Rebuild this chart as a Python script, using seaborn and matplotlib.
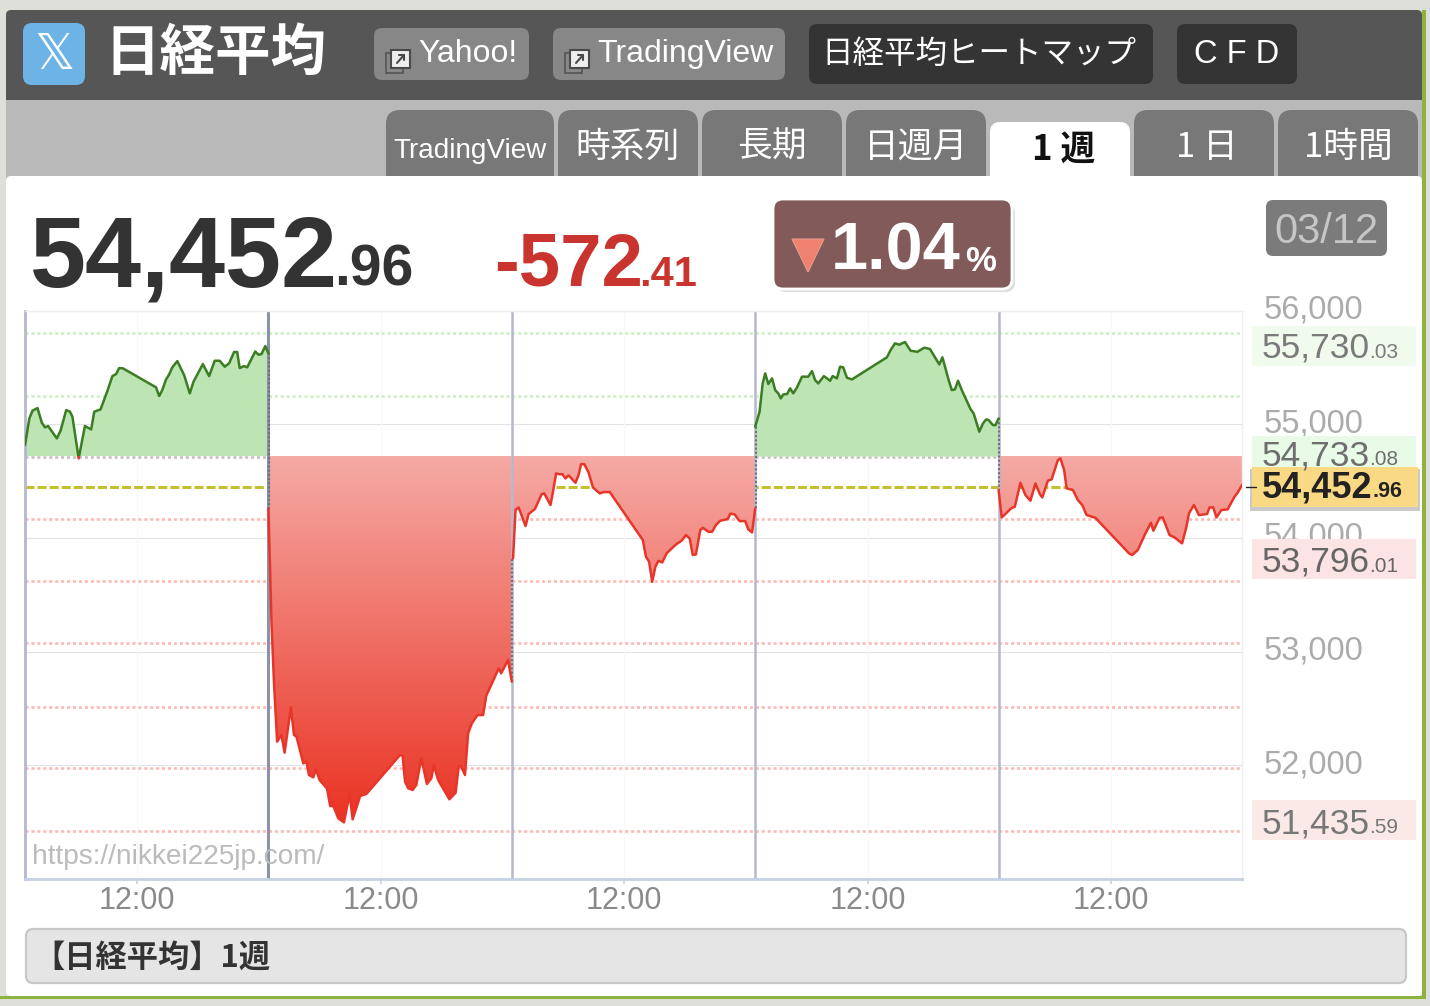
import numpy as np
import pandas as pd
import matplotlib
matplotlib.use("Agg")
import matplotlib.pyplot as plt
import matplotlib.patches as mpatches
import matplotlib.path as mpath
import matplotlib.transforms as mtrans
from matplotlib.colors import LinearSegmentedColormap
import seaborn as sns

# minutes after 09:00 in each session, and price
day1_min = [0, 7, 12, 20, 27, 32, 37, 51, 57, 66, 72, 76, 86, 96, 106, 111, 121, 132, 140, 146, 151, 157, 210, 215, 220, 226, 231, 236, 244, 255, 264, 270, 285, 295, 304, 312, 320, 327, 335, 340, 344, 351, 356, 369, 374, 379, 385, 390]
day1_px = [54817, 55051, 55119, 55142, 55013, 54972, 54984, 54875, 54943, 55124, 55110, 55066, 54699, 54984, 54954, 55110, 55130, 55292, 55423, 55441, 55494, 55491, 55324, 55248, 55300, 55394, 55438, 55500, 55555, 55432, 55271, 55374, 55529, 55423, 55558, 55558, 55506, 55535, 55635, 55635, 55494, 55511, 55500, 55640, 55611, 55617, 55687, 55623]
day2_min = [0, 5, 9, 14, 21, 26, 36, 41, 45, 56, 61, 65, 72, 76, 82, 94, 99, 104, 112, 121, 130, 135, 147, 157, 211, 215, 219, 224, 231, 237, 245, 254, 261, 265, 272, 290, 300, 305, 309, 315, 320, 326, 335, 344, 349, 369, 373, 384, 390]
day2_px = [54260, 53249, 52721, 52208, 52267, 52111, 52510, 52267, 52252, 52017, 52032, 51915, 51894, 51967, 51871, 51795, 51642, 51642, 51534, 51498, 51745, 51525, 51730, 51748, 52091, 52085, 51856, 51798, 51783, 51827, 52061, 51836, 51885, 52003, 51871, 51701, 51759, 51997, 51988, 51915, 52281, 52369, 52442, 52442, 52610, 52853, 52809, 52926, 52736]
day3_min = [2, 6, 11, 22, 27, 37, 48, 52, 62, 66, 71, 77, 81, 86, 91, 102, 107, 111, 116, 123, 130, 141, 147, 157, 210, 215, 220, 225, 230, 235, 241, 248, 259, 264, 272, 279, 285, 290, 295, 302, 306, 315, 321, 327, 334, 346, 350, 357, 365, 374, 379, 385, 390]
day3_px = [53820, 54245, 54268, 54104, 54210, 54254, 54386, 54391, 54289, 54406, 54567, 54559, 54561, 54523, 54550, 54485, 54553, 54649, 54649, 54576, 54444, 54391, 54403, 54403, 53981, 53834, 53790, 53614, 53746, 53799, 53784, 53864, 53922, 53946, 53975, 54025, 53996, 53849, 53855, 54069, 54089, 54054, 54054, 54113, 54151, 54166, 54213, 54207, 54148, 54148, 54075, 54048, 54259]
day4_min = [0, 7, 12, 16, 21, 27, 32, 37, 41, 45, 51, 56, 61, 67, 75, 85, 91, 96, 101, 110, 120, 124, 131, 136, 141, 147, 155, 211, 217, 224, 231, 240, 249, 260, 271, 280, 295, 300, 310, 315, 320, 325, 331, 345, 350, 359, 365, 370, 374, 381, 385, 390]
day4_px = [54978, 55110, 55359, 55447, 55353, 55403, 55300, 55271, 55227, 55262, 55265, 55315, 55271, 55324, 55418, 55418, 55467, 55388, 55359, 55423, 55382, 55423, 55403, 55506, 55500, 55409, 55394, 55588, 55652, 55711, 55699, 55723, 55646, 55637, 55673, 55661, 55526, 55588, 55388, 55300, 55306, 55382, 55300, 55133, 55095, 54934, 55007, 55042, 55036, 54992, 54992, 55051]
day5_min = [0, 5, 12, 20, 26, 35, 43, 51, 59, 66, 70, 79, 85, 95, 99, 105, 109, 119, 127, 134, 141, 155, 209, 214, 223, 234, 244, 248, 258, 263, 274, 282, 294, 301, 305, 313, 321, 334, 338, 344, 349, 357, 367, 378, 383, 390]
day5_px = [54421, 54180, 54216, 54260, 54274, 54485, 54377, 54327, 54479, 54386, 54356, 54503, 54515, 54685, 54699, 54597, 54436, 54421, 54333, 54289, 54201, 54177, 53864, 53849, 53893, 54025, 54133, 54063, 54177, 54180, 54025, 54004, 53952, 54098, 54216, 54289, 54201, 54210, 54268, 54268, 54180, 54245, 54251, 54362, 54397, 54465]

session_len = 390
base_price = 54720
base_dotted = 54708
last_price = 54452
green_levels = [55798, 55252]
red_levels = [54162, 53621, 53076, 52513, 51972, 51422]
y_ticks = [52000, 53000, 54000, 55000, 56000]
y_ticklabels = ["52,000", "53,000", "54,000", "55,000", "56,000"]
x_tick_min = 180

sns.set_theme(style="white")
SANS = ["Liberation Sans", "DejaVu Sans"]
CJK = ["Noto Sans CJK JP", "DejaVu Sans"]
plt.rcParams["font.family"] = SANS

days = [(day1_min, day1_px), (day2_min, day2_px), (day3_min, day3_px), (day4_min, day4_px), (day5_min, day5_px)]
frames = []
for i, (m, p) in enumerate(days):
    frames.append(pd.DataFrame({"day": i, "x": np.array(m) + i * session_len, "price": p}))
df = pd.concat(frames, ignore_index=True)

W, H = 1430, 1006
fig = plt.figure(figsize=(W / 100, H / 100), dpi=100, facecolor="#dfdfda")


def overlay(z):
    a = fig.add_axes([0, 0, 1, 1], zorder=z)
    a.set_xlim(0, W)
    a.set_ylim(H, 0)
    a.axis("off")
    return a


def box(a, x0, y0, x1, y1, color, r=0, **kw):
    if r:
        p = mpatches.FancyBboxPatch((x0, y0), x1 - x0, y1 - y0, boxstyle=f"round,pad=0,rounding_size={r}", fc=color, **{"ec": "none", **kw})
    else:
        p = mpatches.Rectangle((x0, y0), x1 - x0, y1 - y0, fc=color, **{"ec": "none", **kw})
    a.add_patch(p)
    return p


def jp(a, x, y, s, size, color="white", weight="normal", ha="center", va="center"):
    # the CJK face sits a bit high when centred
    a.text(x, y + 3, s, fontsize=size, color=color, fontweight=weight, ha=ha, va=va, family=CJK)


def en(a, x, y, s, size, color="white", weight="normal", ha="left", va="baseline"):
    a.text(x, y, s, fontsize=size, color=color, fontweight=weight, ha=ha, va=va, family=SANS)


# page chrome below the chart
bg = overlay(0)
box(bg, 6, 10, 1422, 120, "#565656", r=5)
box(bg, 6, 100, 1422, 180, "#b9b9b9")
for x0, x1 in [(386, 554), (558, 698), (702, 842), (846, 986), (1134, 1274), (1278, 1418)]:
    box(bg, x0, 110, x1, 190, "#787878", r=14)
box(bg, 6, 176, 1422, 996, "white", r=5)
box(bg, 990, 122, 1130, 190, "white", r=10)
box(bg, 1422, 10, 1426, 999, "#8db33e")
box(bg, 0, 996, 1426, 999, "#8db33e")

box(bg, 23, 23, 85, 85, "#6db3e6", r=9)
bg.text(54, 55, "\U0001D54F", fontsize=36, color="white", ha="center", va="center", family="DejaVu Sans")
jp(bg, 215, 51, "日経平均", 40, weight="bold")

for x0, x1, label, tx in [(374, 529, "Yahoo!", 418), (553, 785, "TradingView", 597)]:
    box(bg, x0, 28, x1, 80, "#878787", r=8)
    en(bg, tx, 62, label, 23)
    ix = x0 + 12
    box(bg, ix, 53, ix + 17, 73, "none", ec="#555555", lw=1.2)
    box(bg, ix + 5, 50, ix + 24, 68, "#eeeeee", ec="#4a4a4a", lw=1.5)
    bg.plot([ix + 11, ix + 18], [63, 55], color="#4a4a4a", lw=1.5)
    bg.plot([ix + 13, ix + 18, ix + 18], [55, 55, 60], color="#4a4a4a", lw=1.5)

box(bg, 809, 24, 1153, 84, "#343434", r=8)
jp(bg, 979, 51, "日経平均ヒートマップ", 22.7)
box(bg, 1177, 24, 1297, 84, "#343434", r=8)
en(bg, 1237, 63, "C F D", 23.5, ha="center")

en(bg, 393, 158, "TradingView", 20.1)
jp(bg, 628, 144, "時系列", 25)
jp(bg, 772, 144, "長期", 25)
jp(bg, 916, 144, "日週月", 25)
jp(bg, 1064, 146, "1 週", 25, color="#111111", weight="bold")
jp(bg, 1207, 144, "1 日", 25)
jp(bg, 1348, 144, "1時間", 25)

en(bg, 30, 286, "54,452", 72.5, color="#333333", weight="bold")
en(bg, 334, 286, ".96", 41, color="#333333", weight="bold")
en(bg, 494, 286, "-572", 53.5, color="#c9352e", weight="bold")
en(bg, 639, 286, ".41", 30, color="#c9352e", weight="bold")

box(bg, 776, 203, 1015, 292, "#dddddd", r=10)
box(bg, 773, 199, 1012, 289, "#825a5a", r=10, ec="white", lw=2)
bg.add_patch(mpatches.Polygon([(792, 239), (824, 239), (808, 272)], fc="#f08070", ec="#e8a090", lw=0.8))
en(bg, 831, 270, "1.04", 48, weight="bold")
en(bg, 965, 271, "%", 25, weight="bold")
box(bg, 1266, 200, 1387, 256, "#7b7b7b", r=7)
en(bg, 1326, 243, "03/12", 30, color="#c6c6c6", ha="center")

box(bg, 26, 929, 1406, 983, "#e5e5e5", r=7, ec="#c8c8c8", lw=1.6)
jp(bg, 33, 955, "【日経平均】1週", 22.5, color="#333333", weight="bold", ha="left")

# chart
left, right, top, bottom = 25, 1242, 310.5, 879
ax = fig.add_axes([left / W, 1 - bottom / H, (right - left) / W, (bottom - top) / H], zorder=1)
ax.set_facecolor("white")
xmax = 5 * session_len
dots = (0, (1.15, 1.1))

for y in y_ticks:
    ax.axhline(y, color="#e2e2e8", lw=0.8, zorder=1)
for i in range(5):
    ax.axvline(x_tick_min + i * session_len, color="#f8f8fa", lw=0.8, zorder=1)
for y in green_levels:
    ax.axhline(y, color="#cdeec3", lw=1.9, ls=dots, zorder=1.5)
for y in red_levels:
    ax.axhline(y, color="#fdb9b3", lw=1.9, ls=dots, zorder=1.5)
ax.axhline(base_dotted, color="#c8c0c0", lw=1.9, ls=dots, zorder=1.5)
ax.axhline(last_price, color="#c4bf2e", lw=2.2, ls=(0, (2.95, 1)), zorder=1.6)

red_paths = []
for i, g in df.groupby("day"):
    xs = g["x"].to_numpy()
    ps = g["price"].to_numpy()
    ax.fill_between(xs, ps, base_price, where=ps >= base_price, interpolate=True, color="#bde4b3", lw=0, zorder=2)
    poly = ax.fill_between(xs, ps, base_price, where=ps <= base_price, interpolate=True, color="none", lw=0)
    red_paths.extend(poly.get_paths())

cmap = LinearSegmentedColormap.from_list("drop", ["#f5aaa5", "#ea3323"])
im = ax.imshow(np.linspace(0, 1, 256).reshape(-1, 1), cmap=cmap, aspect="auto", extent=[0, xmax, 51500, base_price], origin="upper", zorder=2)
im.set_clip_path(mpath.Path.make_compound_path(*red_paths), ax.transData)

for i in range(1, 5):
    if i == 1:
        ax.axvline(i * session_len, color="#8d92ab", lw=2.2, zorder=2.5)
    else:
        ax.axvline(i * session_len, color="#b5b8cc", lw=1.8, zorder=2.5)
for i in range(4):
    end = days[i][1][-1]
    start = days[i + 1][1][0]
    ax.plot([(i + 1) * session_len + 1] * 2, [end, start], color="#70707c", lw=1.5, ls=(0, (1, 1)), zorder=2.6)

clip_up = mpatches.Rectangle((0, base_price), xmax, 5000, transform=ax.transData)
clip_down = mpatches.Rectangle((0, 50000), xmax, base_price - 50000, transform=ax.transData)
for col, clip in [("#3a7d22", clip_up), ("#e8352a", clip_down)]:
    n = len(ax.lines)
    sns.lineplot(data=df, x="x", y="price", units="day", estimator=None, color=col, lw=1.8, ax=ax, zorder=3, legend=False)
    for line in ax.lines[n:]:
        line.set_clip_path(clip)

ax.set_xlim(0, xmax)
ax.set_ylim(51000, 56000)
ax.set(xlabel="", ylabel="")
ax.set_xticks([x_tick_min + i * session_len for i in range(5)])
ax.set_xticklabels(["12:00"] * 5)
ax.yaxis.tick_right()
ax.set_yticks(y_ticks)
ax.set_yticklabels(y_ticklabels)
ax.tick_params(axis="x", bottom=True, length=3.5, width=1.2, color="#c5d0e4", labelsize=22, labelcolor="#8a8a8a", pad=1.5)
ax.tick_params(axis="y", length=0, labelsize=23.5, labelcolor="#ababab", pad=15.3)
nudge = mtrans.ScaledTranslation(0, 3 / 72, fig.dpi_scale_trans)
for lab in ax.get_yticklabels():
    lab.set_transform(lab.get_transform() + nudge)
for side, col, lw in [("left", "#b5b8cc", 2), ("bottom", "#c5d0e4", 2), ("top", "#eeeeee", 1), ("right", "#eeeeee", 1)]:
    ax.spines[side].set_color(col)
    ax.spines[side].set_linewidth(lw)
    ax.spines[side].set_visible(True)

# labels over the chart
fg = overlay(2)
fg.patch.set_visible(False)
en(fg, 32, 864, "https://nikkei225jp.com/", 20.2, color="#bbbbbb")
box(fg, 1252, 326, 1416, 366, "#f0fbee")
en(fg, 1262, 358, "55,730", 25.5, color="#7a7a7a")
en(fg, 1369, 358, ".03", 15, color="#7a7a7a")
box(fg, 1252, 436, 1416, 476, "#e8fbe6")
en(fg, 1262, 465, "54,733", 25.5, color="#6e6e6e")
en(fg, 1369, 465, ".08", 15, color="#6e6e6e")
box(fg, 1252, 539, 1416, 579, "#fbe4e3")
en(fg, 1262, 572, "53,796", 25.5, color="#666666")
en(fg, 1369, 572, ".01", 15, color="#666666")
box(fg, 1252, 800, 1416, 840, "#fbe9e8")
en(fg, 1262, 833, "51,435", 25.5, color="#777777")
en(fg, 1369, 833, ".59", 15, color="#777777")
box(fg, 1250, 469, 1420, 511, "#c9c9c9")
box(fg, 1252, 467, 1418, 507, "#fad984")
en(fg, 1262, 497, "54,452", 26, color="#222222", weight="bold")
en(fg, 1372, 497, ".96", 15.5, color="#222222", weight="bold")
fg.plot([1246, 1256], [487, 487], color="#222222", lw=1)

plt.savefig("out.png", dpi=100)
